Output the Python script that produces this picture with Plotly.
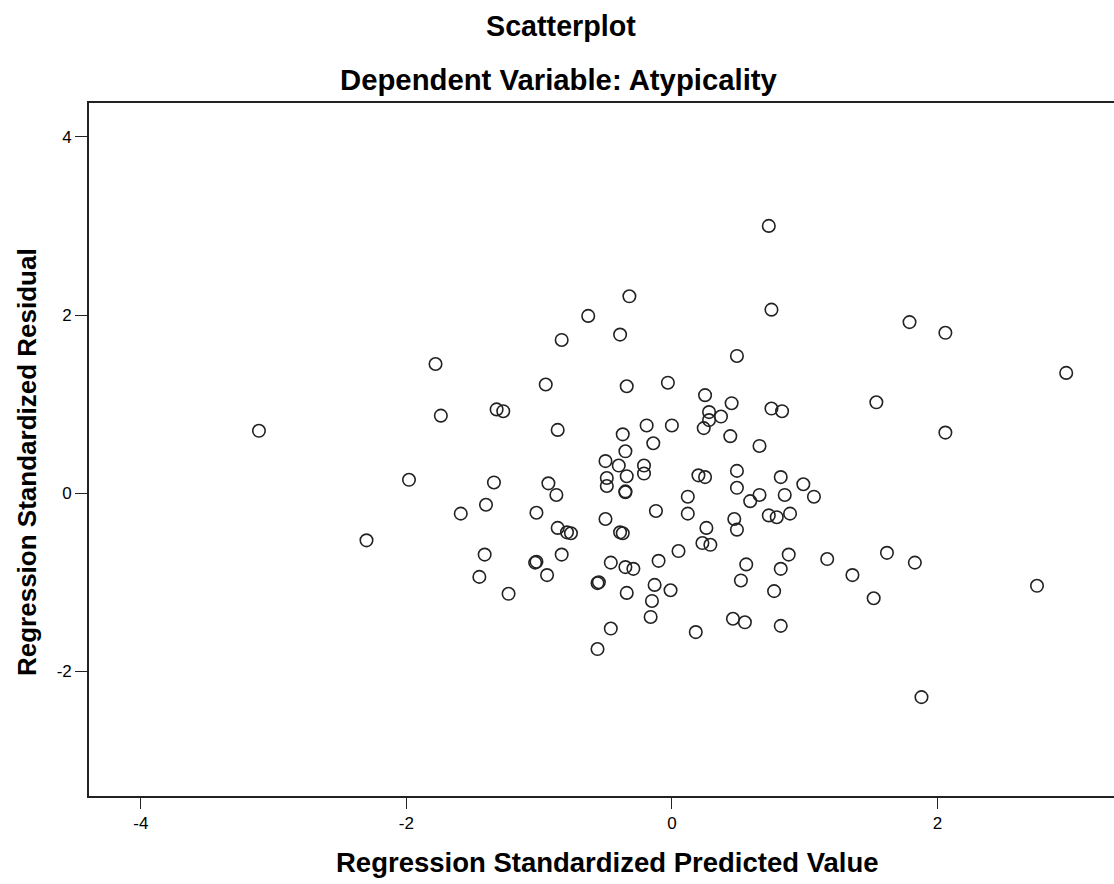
import plotly.graph_objects as go

# Regression standardized predicted values (x) and residuals (y)
pred = [
    -3.11, -2.30, -1.98, -1.78, -1.74, -1.59, -1.40, -1.34, -1.41, -1.45,
    -1.32, -1.27, -1.23, -1.02, -1.03, -1.02, -0.95, -0.93, -0.94, -0.87,
    -0.86, -0.86, -0.83, -0.83, -0.79, -0.76, -0.63, -0.56, -0.55, -0.56,
    -0.50, -0.49, -0.49, -0.50, -0.46, -0.46, -0.39, -0.40, -0.39, -0.37,
    -0.37, -0.35, -0.35, -0.35, -0.34, -0.32, -0.34, -0.35, -0.29, -0.34,
    -0.21, -0.21, -0.19, -0.14, -0.13, -0.15, -0.16, -0.12, -0.10, -0.03,
    -0.01, 0.00, 0.05, 0.12, 0.12, 0.18, 0.20, 0.25, 0.25, 0.24,
    0.28, 0.28, 0.26, 0.23, 0.29, 0.37, 0.45, 0.44, 0.47, 0.49,
    0.49, 0.49, 0.49, 0.46, 0.52, 0.55, 0.56, 0.59, 0.66, 0.66,
    0.73, 0.75, 0.75, 0.73, 0.79, 0.77, 0.82, 0.83, 0.82, 0.82,
    0.85, 0.89, 0.88, 0.99, 1.07, 1.17, 1.36, 1.52, 1.54, 1.62,
    1.79, 1.83, 1.88, 2.06, 2.06, 2.75, 2.97,
]
resid = [
    0.70, -0.53, 0.15, 1.45, 0.87, -0.23, -0.13, 0.12, -0.69, -0.94,
    0.94, 0.92, -1.13, -0.22, -0.78, -0.77, 1.22, 0.11, -0.92, -0.02,
    0.71, -0.39, 1.72, -0.69, -0.44, -0.45, 1.99, -1.01, -1.00, -1.75,
    0.36, 0.17, 0.08, -0.29, -0.78, -1.52, 1.78, 0.31, -0.44, -0.45,
    0.66, 0.47, 0.02, 0.01, 1.20, 2.21, 0.19, -0.83, -0.85, -1.12,
    0.31, 0.22, 0.76, 0.56, -1.03, -1.21, -1.39, -0.20, -0.76, 1.24,
    -1.09, 0.76, -0.65, -0.04, -0.23, -1.56, 0.20, 0.18, 1.10, 0.73,
    0.82, 0.91, -0.39, -0.56, -0.58, 0.86, 1.01, 0.64, -0.29, -0.41,
    1.54, 0.25, 0.06, -1.41, -0.98, -1.45, -0.80, -0.09, 0.53, -0.02,
    3.00, 2.06, 0.95, -0.25, -0.27, -1.10, 0.18, 0.92, -0.85, -1.49,
    -0.02, -0.23, -0.69, 0.10, -0.04, -0.74, -0.92, -1.18, 1.02, -0.67,
    1.92, -0.78, -2.29, 1.80, 0.68, -1.04, 1.35,
]

x_ticks = [-4, -2, 0, 2]
y_ticks = [-2, 0, 2, 4]

title_text = "Scatterplot"
subtitle_text = "Dependent Variable: Atypicality"
x_title = "Regression Standardized Predicted Value"
y_title = "Regression Standardized Residual"

FONT = "Liberation Sans, Arial, sans-serif"

fig = go.Figure()
fig.add_trace(go.Scatter(
    x=pred, y=resid, mode="markers",
    marker=dict(symbol="circle-open", size=12.5, color="#222222",
                line=dict(width=1.6, color="#222222")),
    hoverinfo="x+y", showlegend=False,
))

fig.update_layout(
    width=1114, height=884,
    margin=dict(l=89, r=0, t=103, b=88),
    paper_bgcolor="white", plot_bgcolor="white",
    font=dict(family=FONT, color="black"),
    xaxis=dict(
        range=[-4.39, 3.33], tickvals=x_ticks, ticktext=[str(v) for v in x_ticks],
        showgrid=False, zeroline=False, showline=True, linecolor="#222222",
        linewidth=1.6, mirror=True, ticks="outside", ticklen=11, tickwidth=1.3,
        tickcolor="#222222", tickfont=dict(size=17, family=FONT, color="black"),
    ),
    yaxis=dict(
        range=[-3.40, 4.38], tickvals=y_ticks, ticktext=[str(v) for v in y_ticks],
        showgrid=False, zeroline=False, showline=True, linecolor="#222222",
        linewidth=1.6, ticks="outside", ticklen=12, tickwidth=1.3,
        tickcolor="#222222", tickfont=dict(size=17, family=FONT, color="black"),
    ),
    annotations=[
        dict(text="<b>%s</b>" % title_text, x=561, y=884 - 26, xref="paper", yref="paper",
             showarrow=False, font=dict(size=28.7, family=FONT, color="black")),
        dict(text="<b>%s</b>" % subtitle_text, x=559, y=884 - 79, xref="paper", yref="paper",
             showarrow=False, font=dict(size=29.3, family=FONT, color="black")),
        dict(text="<b>%s</b>" % x_title, x=607, y=884 - 862, xref="paper", yref="paper",
             showarrow=False, font=dict(size=27.5, family=FONT, color="black")),
        dict(text="<b>%s</b>" % y_title, x=27, y=884 - 462, xref="paper", yref="paper",
             showarrow=False, textangle=-90, font=dict(size=26, family=FONT, color="black")),
    ],
)

# convert pixel-based annotation positions into paper coordinates
pw, ph = 1114 - 89 - 0, 884 - 103 - 88
for a in fig.layout.annotations:
    a.x = (a.x - 89) / pw
    a.y = (a.y - 88) / ph
    a.xanchor = "center"
    a.yanchor = "middle"

fig.write_html("out.html",
               config={"displayModeBar": False},
               post_script="document.body.style.margin='0';document.body.style.padding='0';")
